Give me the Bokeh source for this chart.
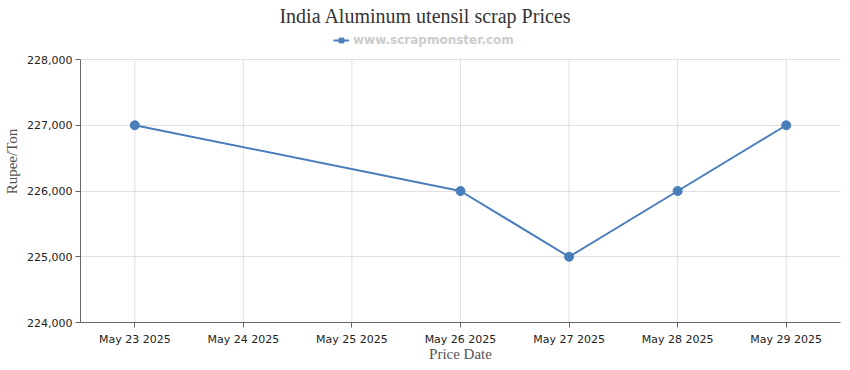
from datetime import datetime, timedelta
from bokeh.plotting import figure
from bokeh.models import (Range1d, DatetimeTickFormatter, FixedTicker, NumeralTickFormatter,
                          Legend, LegendItem, ColumnDataSource, Label)
from bokeh.embed import file_html
from bokeh.resources import INLINE

title_text = "India Aluminum utensil scrap Prices"
series_name = "www.scrapmonster.com"
dates = ["2025-05-23", "2025-05-26", "2025-05-27", "2025-05-28", "2025-05-29"]
prices = [227000, 226000, 225000, 226000, 227000]
tick_dates = ["2025-05-23", "2025-05-24", "2025-05-25", "2025-05-26",
              "2025-05-27", "2025-05-28", "2025-05-29"]
y_ticks = [224000, 225000, 226000, 227000, 228000]

x = [datetime.strptime(d, "%Y-%m-%d") for d in dates]
tx = [datetime.strptime(d, "%Y-%m-%d") for d in tick_dates]
def ms(d):
    return (d - datetime(1970, 1, 1)).total_seconds() * 1000

color = "#4a7ebb"
W, H = 850, 370
B_LEFT, B_RIGHT, B_BOTTOM = 80, 10, 48
FH = H - B_BOTTOM            # frame spans from canvas top to the x axis
HEADER = 59                  # pixels of header space above the value area
y_min, y_max = y_ticks[0], y_ticks[-1]
y_top = y_max + HEADER * (y_max - y_min) / (FH - HEADER)

src = ColumnDataSource(dict(x=x, y=prices))
p = figure(width=W, height=H, output_backend="svg", toolbar_location=None,
           x_axis_type="datetime",
           x_range=Range1d(tx[0] - timedelta(hours=12), tx[-1] + timedelta(hours=12)),
           y_range=Range1d(y_min, y_top),
           min_border_left=B_LEFT, min_border_right=B_RIGHT,
           min_border_bottom=B_BOTTOM, min_border_top=0)

# vertical grid lines limited to the value area
grid_src = ColumnDataSource(dict(x=tx, y0=[y_min] * len(tx), y1=[y_max] * len(tx)))
p.segment(x0="x", y0="y0", x1="x", y1="y1", source=grid_src,
          line_color="#e0e0e0", line_width=1)

ln = p.line("x", "y", source=src, line_color=color, line_width=2)
sq = p.scatter("x", "y", source=src, marker="square", size=6,
               fill_color=color, line_color=color)
p.scatter("x", "y", source=src, size=9, fill_color=color, line_color=color)

p.add_layout(Label(x=W / 2 - B_LEFT, y=FH - 15, x_units="screen", y_units="screen",
                   text=title_text, text_align="center", text_baseline="middle",
                   text_font="Liberation Serif", text_font_size="20px",
                   text_color="#333333"))

legend = Legend(items=[LegendItem(label=series_name, renderers=[ln, sq])],
                orientation="horizontal", location=(253, FH - 47),
                label_text_font="DejaVu Sans", label_text_font_style="bold",
                label_text_font_size="12px", label_text_color="#cccccc",
                border_line_color=None, background_fill_alpha=0,
                glyph_width=16, glyph_height=12, padding=0, margin=0, spacing=4,
                label_standoff=4, label_height=12)
p.add_layout(legend, "center")

p.xaxis.ticker = FixedTicker(ticks=[ms(t) for t in tx])
p.xaxis.formatter = DatetimeTickFormatter(days="%b %d %Y", months="%b %d %Y",
                                          hours="%b %d %Y", years="%b %d %Y")
p.yaxis.ticker = FixedTicker(ticks=y_ticks)
p.yaxis.formatter = NumeralTickFormatter(format="0,0")
p.yaxis.bounds = (y_min, y_max)

p.xaxis.axis_label = "Price Date"
p.yaxis.axis_label = "Rupee/Ton"
for ax in (p.xaxis[0], p.yaxis[0]):
    ax.axis_label_text_font = "Liberation Serif"
    ax.axis_label_text_font_size = "15px"
    ax.axis_label_text_font_style = "normal"
    ax.axis_label_text_color = "#555555"
    ax.major_label_text_font = "DejaVu Sans"
    ax.major_label_text_font_size = "11px"
    ax.major_label_text_color = "#222222"
    ax.axis_line_color = "#666666"
    ax.major_tick_line_color = "#666666"
    ax.major_tick_out = 5
    ax.major_tick_in = 0
    ax.minor_tick_line_color = None
p.xaxis.axis_label_standoff = -3
p.xaxis.major_label_standoff = 5
p.yaxis.axis_label_standoff = 4
p.yaxis.major_label_standoff = 3

p.xgrid.visible = False
p.ygrid.grid_line_color = "#e0e0e0"
p.outline_line_color = None

open("out.html", "w").write(file_html(p, INLINE))
